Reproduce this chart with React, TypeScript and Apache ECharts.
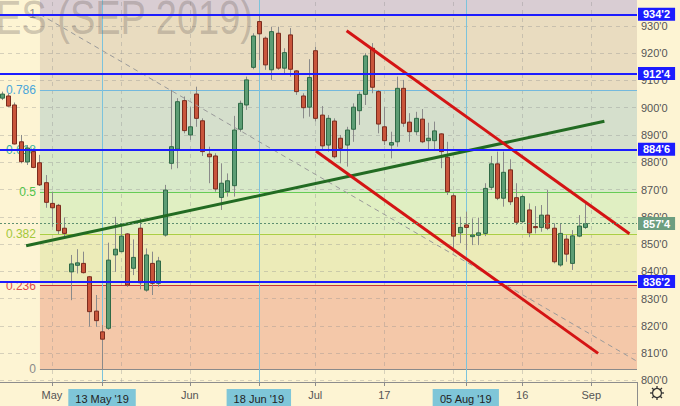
import { useEffect, useRef } from "react";
import * as echarts from "echarts";

// ---- data ----
const dates = [
  "2019-04-18", "2019-04-22", "2019-04-23", "2019-04-24", "2019-04-25", "2019-04-26", "2019-04-29", "2019-04-30",
  "2019-05-01", "2019-05-02", "2019-05-03", "2019-05-06", "2019-05-07", "2019-05-08", "2019-05-09", "2019-05-10",
  "2019-05-13", "2019-05-14", "2019-05-15", "2019-05-16", "2019-05-17", "2019-05-20", "2019-05-21", "2019-05-22",
  "2019-05-23", "2019-05-24", "2019-05-28", "2019-05-29", "2019-05-30", "2019-05-31", "2019-06-03", "2019-06-04",
  "2019-06-05", "2019-06-06", "2019-06-07", "2019-06-10", "2019-06-11", "2019-06-12", "2019-06-13", "2019-06-14",
  "2019-06-17", "2019-06-18", "2019-06-19", "2019-06-20", "2019-06-21", "2019-06-24", "2019-06-25", "2019-06-26",
  "2019-06-27", "2019-06-28", "2019-07-01", "2019-07-02", "2019-07-03", "2019-07-05", "2019-07-08", "2019-07-09",
  "2019-07-10", "2019-07-11", "2019-07-12", "2019-07-15", "2019-07-16", "2019-07-17", "2019-07-18", "2019-07-19",
  "2019-07-22", "2019-07-23", "2019-07-24", "2019-07-25", "2019-07-26", "2019-07-29", "2019-07-30", "2019-07-31",
  "2019-08-01", "2019-08-02", "2019-08-05", "2019-08-06", "2019-08-07", "2019-08-08", "2019-08-09", "2019-08-12",
  "2019-08-13", "2019-08-14", "2019-08-15", "2019-08-16", "2019-08-19", "2019-08-20", "2019-08-21", "2019-08-22",
  "2019-08-23", "2019-08-26", "2019-08-27", "2019-08-28", "2019-08-29", "2019-08-30",
];
const firstBarIndex = -16; // bar position of the first date, counted from 13 May '19

const opens = [
  903.5, 904.3, 901.0, 887.5, 880.1, 883.9, 879.8, 872.5, 864.9, 864.2, 855.8, 839.8, 842.2, 842.9, 838.0, 825.4,
  817.8, 819.1, 846.0, 847.2, 853.7, 841.1, 855.8, 833.1, 842.9, 835.6, 853.3, 879.6, 884.8, 902.6, 890.0, 905.0,
  895.2, 883.0, 882.3, 867.1, 869.2, 871.4, 892.1, 901.0, 914.8, 931.6, 925.5, 913.9, 927.3, 914.5, 926.7, 913.5,
  904.3, 900.2, 920.9, 897.3, 886.3, 895.1, 888.8, 886.3, 892.1, 898.9, 904.9, 921.8, 905.9, 893.0, 886.3, 887.5,
  907.1, 894.7, 891.2, 895.8, 887.9, 887.9, 890.4, 881.8, 867.7, 854.1, 857.0, 852.7, 853.2, 853.9, 870.8, 879.4,
  866.8, 877.2, 867.0, 858.2, 862.5, 856.4, 856.1, 860.6, 855.8, 842.3, 851.8, 842.9, 852.9, 856.1,
];
const closes = [
  905.0, 900.6, 886.7, 880.2, 885.2, 878.1, 871.7, 865.3, 863.3, 854.9, 853.9, 842.7, 843.1, 839.5, 825.2, 821.9,
  815.1, 844.1, 848.1, 852.9, 835.0, 845.1, 835.8, 846.0, 835.6, 843.8, 869.8, 885.7, 902.2, 891.6, 893.0, 896.1,
  883.9, 882.0, 870.2, 872.3, 873.2, 891.8, 901.6, 910.2, 926.3, 927.1, 915.7, 927.9, 914.5, 920.2, 914.1, 905.9,
  900.0, 911.1, 896.1, 886.0, 896.1, 882.0, 885.1, 891.8, 900.2, 904.9, 919.0, 907.5, 894.0, 887.9, 887.2, 907.1,
  894.3, 891.2, 896.1, 887.5, 888.8, 891.5, 883.9, 869.2, 852.9, 856.1, 856.1, 853.3, 854.1, 870.4, 879.4, 866.8,
  876.3, 865.5, 858.0, 867.4, 854.1, 856.0, 860.6, 855.8, 843.5, 853.9, 846.3, 853.0, 856.6, 857.5,
];
const lows = [
  902.8, 900.4, 886.5, 879.6, 879.0, 877.8, 871.3, 863.3, 856.3, 853.7, 852.7, 829.4, 839.2, 839.2, 819.7, 819.7,
  803.8, 818.5, 839.8, 847.0, 834.3, 838.6, 833.4, 832.5, 831.3, 834.3, 852.7, 877.4, 877.8, 890.6, 888.2, 893.0,
  882.3, 872.3, 869.2, 862.5, 867.4, 867.4, 891.2, 899.2, 914.1, 917.5, 913.9, 910.2, 913.9, 912.6, 911.4, 904.7,
  896.1, 896.7, 894.9, 884.5, 883.9, 881.4, 879.6, 878.4, 887.5, 893.7, 901.0, 905.3, 890.6, 886.3, 881.4, 885.7,
  893.0, 887.5, 890.0, 887.0, 884.8, 884.5, 877.8, 868.0, 848.4, 850.3, 847.8, 849.6, 849.6, 852.9, 869.8, 866.1,
  863.7, 864.3, 857.0, 857.6, 852.5, 853.9, 854.5, 855.1, 842.9, 841.7, 843.5, 840.5, 852.5, 855.5,
];
const highs = [
  905.9, 905.3, 901.9, 890.0, 886.3, 885.1, 882.7, 875.3, 869.2, 864.7, 859.7, 846.0, 848.1, 847.2, 838.3, 831.3,
  820.3, 850.5, 860.0, 857.0, 854.0, 851.7, 859.4, 848.4, 847.2, 845.3, 871.7, 906.5, 903.5, 904.1, 900.2, 907.7,
  896.1, 885.7, 883.3, 879.6, 875.9, 897.0, 902.6, 911.4, 927.3, 934.25, 926.1, 929.7, 929.7, 921.8, 929.2, 913.8,
  905.3, 917.8, 922.4, 900.6, 897.3, 896.1, 890.0, 893.0, 901.6, 905.9, 920.0, 923.7, 906.5, 900.2, 891.2, 911.4,
  910.2, 898.0, 898.5, 899.5, 894.5, 894.9, 890.6, 887.5, 868.6, 860.0, 861.9, 859.4, 859.7, 872.3, 882.3, 883.9,
  883.9, 881.1, 872.3, 868.0, 864.9, 863.9, 864.3, 869.8, 857.6, 857.6, 853.3, 855.1, 860.6, 864.7,
];

const timeTickIndex = [-8, 0, 14, 25, 34, 45, 58, 67, 78];
const timeTickLabels = ["May", "13 May '19", "Jun", "18 Jun '19", "Jul", "17", "05 Aug '19", "16", "Sep"];
const timeTickMarked = [false, true, false, true, false, false, true, false, false];
const timeGridIndex = [-8, 3, 14, 25, 34, 45, 56, 67, 78];
const markerLineIndex = [0, 25, 58];

const priceTicks = [800, 810, 820, 830, 840, 850, 860, 870, 880, 890, 900, 910, 920, 930, 940];
const keyLevels = [934.25, 912.5, 884.75, 836.25];
const lastPrice = 857.5;

const fibHigh = 934.25;
const fibLow = 804.0;
const fibStartIndex = -9.9;
const fibRatios = [1, 0.786, 0.618, 0.5, 0.382, 0.236, 0];
const fibLabels = ["1", "0.786", "0.618", "0.5", "0.382", "0.236", "0"];
const fibLineColors = ["#8a8a8a", "#74b9dc", "#3fb5a5", "#66cc55", "#a9cf45", "#c83232", "#8a8a8a"];
const fibTextColors = ["#8a8a8a", "#4aa6da", "#3cb4a0", "#4fc24a", "#a3c83a", "#e04a4a", "#8a8a8a"];
const fibBandColors = ["#d9cdd3", "#e9dcc0", "#d5dfcc", "#d8e9c9", "#e0efc2", "#ecebb8", "#f4c8a9"];

const greenTrend = [[-12.1, 849.4], [80.1, 895.0]];
const redUpperTrend = [[39.0, 928.2], [84.1, 853.8]];
const redLowerTrend = [[34.1, 884.1], [79.1, 809.9]];
const fibDiagonal = [[-9.9, 934.25], [85.3, 807.0]];

// ---- layout constants ----
const X_MIN = -16.27;
const X_MAX = 85.3;
const Y_MIN = 799.4;
const Y_MAX = 939.5;
const CREAM = "#fdf4d3";

function priceFmt(v: number): string {
  const w = Math.floor(v + 1e-9);
  const e = Math.round((v - w) * 8);
  return `${w}'${e}`;
}

function buildOption() {
  const candles = dates.map((_, i) => [firstBarIndex + i, opens[i], closes[i], lows[i], highs[i]]);
  const fibPrice = (r: number) => fibLow + r * (fibHigh - fibLow);

  const bandEdges = [Y_MAX, ...fibRatios.map(fibPrice)];
  const bands = fibBandColors.map((c, i) => [
    { xAxis: fibStartIndex, yAxis: bandEdges[i], itemStyle: { color: c } },
    { xAxis: X_MAX, yAxis: bandEdges[i + 1] },
  ]);

  const gridLines = [
    ...priceTicks.filter((p) => p > Y_MIN && p < Y_MAX).map((p) => ({ yAxis: p })),
    ...timeGridIndex.map((x) => ({ xAxis: x })),
  ];

  const fibLines = fibRatios.map((r, i) => [
    {
      coord: [fibStartIndex, fibPrice(r)],
      lineStyle: { color: fibLineColors[i], width: 1, type: "solid" },
      label: {
        show: true,
        position: "start",
        formatter: fibLabels[i],
        color: fibTextColors[i],
        fontSize: 12,
        fontFamily: "Liberation Sans",
        distance: 4,
      },
    },
    { coord: [X_MAX, fibPrice(r)] },
  ]);

  const trend = (name: string, data: number[][], color: string, width: number, type: any, z: number) => ({
    name,
    type: "line",
    data,
    symbol: "none",
    silent: true,
    z,
    lineStyle: { color, width, type },
  });

  return {
    animation: false,
    backgroundColor: CREAM,
    grid: { left: 0, right: 43, top: 0, bottom: 24, outerBoundsMode: "none" },
    xAxis: {
      type: "value",
      min: X_MIN,
      max: X_MAX,
      axisLine: { show: true, lineStyle: { color: "#8c8c8c" } },
      axisTick: { show: true, length: 4, customValues: timeTickIndex, lineStyle: { color: "#8c8c8c" } },
      splitLine: { show: false },
      axisLabel: {
        customValues: timeTickIndex,
        margin: 7,
        color: "#555",
        fontSize: 11,
        fontFamily: "Liberation Sans",
        formatter: (v: number) => {
          const k = timeTickIndex.indexOf(Math.round(v));
          if (k < 0) return "";
          return timeTickMarked[k] ? `{hl|${timeTickLabels[k]}}` : timeTickLabels[k];
        },
        rich: {
          hl: {
            backgroundColor: "#7fc6d8",
            color: "#222",
            padding: [4, 7],
            fontSize: 11,
            fontFamily: "Liberation Sans",
          },
        },
      },
    },
    yAxis: {
      type: "value",
      position: "right",
      min: Y_MIN,
      max: Y_MAX,
      axisLine: { show: true, lineStyle: { color: "#8c8c8c" } },
      axisTick: { show: true, length: 4, customValues: priceTicks, lineStyle: { color: "#8c8c8c" } },
      splitLine: { show: false },
      axisLabel: {
        customValues: priceTicks,
        margin: 4,
        color: "#555",
        fontSize: 11,
        fontFamily: "Liberation Sans",
        formatter: (v: number) => priceFmt(v),
      },
    },
    graphic: [
      {
        type: "text",
        x: -4,
        y: -6,
        scaleY: 1.25,
        z: 1.8,
        silent: true,
        style: {
          text: "ES (SEP 2019)",
          font: '38px "Liberation Sans"',
          fill: "rgba(115,105,100,0.33)",
        },
      },
      {
        type: "line",
        z: 10,
        shape: { x1: 637.5, y1: 382, x2: 637.5, y2: 406 },
        style: { stroke: "#8c8c8c", lineWidth: 1 },
      },
      {
        type: "group",
        x: 657,
        y: 393,
        z: 10,
        children: [
          { type: "circle", shape: { cx: 0, cy: 0, r: 4.5 }, style: { fill: "none", stroke: "#333", lineWidth: 1.3 } },
          ...[0, 1, 2, 3, 4, 5, 6, 7].map((k) => {
            const a = (k * Math.PI) / 4;
            return {
              type: "line",
              shape: { x1: Math.cos(a) * 4.5, y1: Math.sin(a) * 4.5, x2: Math.cos(a) * 7, y2: Math.sin(a) * 7 },
              style: { stroke: "#333", lineWidth: 1.3 },
            };
          }),
        ],
      },
    ],
    series: [
      {
        name: "background",
        type: "line",
        data: [[X_MIN, Y_MIN]],
        symbol: "none",
        silent: true,
        z: 1,
        lineStyle: { opacity: 0 },
        markArea: { silent: true, z: 1, label: { show: false }, data: bands },
        markLine: {
          silent: true,
          z: 1.5,
          symbol: ["none", "none"],
          label: { show: false },
          lineStyle: { color: "rgba(140,140,140,0.35)", width: 1, type: [4, 4] },
          data: gridLines,
        },
      },
      {
        name: "fib",
        type: "line",
        data: [[X_MIN, Y_MIN]],
        symbol: "none",
        silent: true,
        z: 1.6,
        lineStyle: { opacity: 0 },
        markLine: {
          silent: true,
          z: 1.6,
          symbol: ["none", "none"],
          data: fibLines,
        },
      },
      {
        name: "markers",
        type: "line",
        data: [[X_MIN, Y_MIN]],
        symbol: "none",
        silent: true,
        z: 1.7,
        lineStyle: { opacity: 0 },
        markLine: {
          silent: true,
          z: 1.7,
          symbol: ["none", "none"],
          label: { show: false },
          lineStyle: { color: "#7cc3dc", width: 1, type: "solid" },
          data: markerLineIndex.map((x) => ({ xAxis: x })),
        },
      },
      {
        name: "candles",
        type: "custom",
        z: 3,
        silent: true,
        data: candles,
        encode: { x: 0, y: [1, 2, 3, 4] },
        renderItem: (_params: any, api: any) => {
          const x = api.value(0);
          const o = api.value(1);
          const c = api.value(2);
          const l = api.value(3);
          const h = api.value(4);
          const pO = api.coord([x, o]);
          const pC = api.coord([x, c]);
          const pL = api.coord([x, l]);
          const pH = api.coord([x, h]);
          const up = c >= o;
          const cx = Math.round(pO[0]) + 0.5;
          const top = Math.min(pO[1], pC[1]);
          const hgt = Math.max(Math.abs(pO[1] - pC[1]), 1);
          return {
            type: "group",
            children: [
              {
                type: "line",
                shape: { x1: cx, y1: pH[1], x2: cx, y2: pL[1] },
                style: { stroke: "#8a8a8a", lineWidth: 1 },
              },
              {
                type: "rect",
                shape: { x: cx - 2, y: top, width: 4, height: hgt },
                style: {
                  fill: up ? "#5c9d74" : "#c9553b",
                  stroke: up ? "#2f6a46" : "#7b2c1e",
                  lineWidth: 1,
                },
              },
            ],
          };
        },
      },
      trend("fib-diagonal", fibDiagonal, "#9a9a9a", 1, [5, 4], 4),
      trend("support", greenTrend, "#226b22", 3, "solid", 4),
      trend("channel-top", redUpperTrend, "#d41414", 3, "solid", 4),
      trend("channel-bottom", redLowerTrend, "#d41414", 3, "solid", 4),
      {
        name: "levels",
        type: "line",
        data: [[X_MIN, Y_MIN]],
        symbol: "none",
        silent: true,
        z: 5,
        lineStyle: { opacity: 0 },
        markLine: {
          silent: true,
          z: 5,
          symbol: ["none", "none"],
          data: [
            {
              yAxis: lastPrice,
              lineStyle: { color: "#5e8f70", width: 1, type: [2, 2] },
              label: {
                show: true,
                position: "end",
                distance: 1,
                formatter: priceFmt(lastPrice),
                backgroundColor: "#6c9e80",
                color: "#fff",
                fontWeight: "bold",
                fontSize: 11,
                fontFamily: "Liberation Sans",
                padding: [1, 5],
              },
            },
            ...keyLevels.map((v) => ({
              yAxis: v,
              lineStyle: { color: "#1c1cff", width: 2, type: "solid" },
              label: {
                show: true,
                position: "end",
                distance: 1,
                formatter: priceFmt(v),
                backgroundColor: "#1c1cff",
                color: "#fff",
                fontWeight: "bold",
                fontSize: 11,
                fontFamily: "Liberation Sans",
                padding: [1, 5],
              },
            })),
          ],
        },
      },
    ],
  };
}

export default function App() {
  const ref = useRef<HTMLDivElement>(null);
  useEffect(() => {
    if (!ref.current) return;
    const chart = echarts.init(ref.current, null, { renderer: "svg" });
    chart.setOption(buildOption() as any);
    return () => chart.dispose();
  }, []);
  return (
    <div
      ref={ref}
      style={{ position: "fixed", left: 0, top: 0, width: 680, height: 406, background: CREAM }}
    />
  );
}
